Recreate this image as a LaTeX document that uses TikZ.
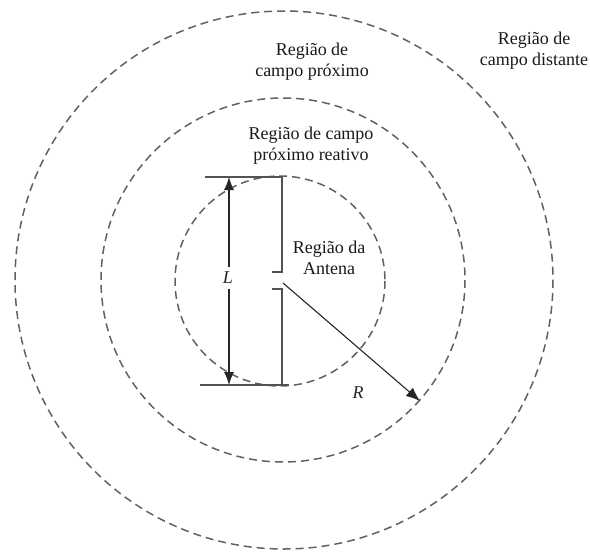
\documentclass[tikz,border=0pt]{standalone}
\usepackage{fontspec}
\setmainfont{Liberation Serif}
\usetikzlibrary{arrows.meta}
\begin{document}
\begin{tikzpicture}[x=1pt,y=-1pt,
  zone/.style={draw=black!62,line width=1.5pt,dash pattern=on 8pt off 5pt},
  antline/.style={draw=black!68,line width=1.8pt},
  dimline/.style={draw=black!85,line width=1.1pt},
  lbl/.style={font=\fontsize{18}{21}\selectfont,align=center,text=black!90,inner sep=0pt},
  ilbl/.style={font=\fontsize{18}{21}\selectfont\itshape,text=black!85,inner sep=1pt}]
\useasboundingbox (0,0) rectangle (590,552);
% circles
\draw[zone] (284,280) circle[radius=269];
\draw[zone] (283,280) circle[radius=182];
\draw[zone] (280,281) circle[radius=105];
% antenna
\coordinate (tl) at (205,177);
\coordinate (tr) at (282,177);
\coordinate (tg) at (282,272);
\coordinate (tgl) at (272,272);
\coordinate (bgl) at (272,289);
\coordinate (bg) at (282,289);
\coordinate (br) at (282,385);
\coordinate (bl) at (200,385);
\coordinate (brr) at (289,385);
\draw[antline] (tl) -- (tr) -- (tg) -- (tgl);
\draw[antline] (bgl) -- (bg) -- (br);
\draw[antline] (bl) -- (brr);
% dimension L
\coordinate (dt) at (229,177);
\coordinate (db) at (229,385);
\draw[dimline,{Latex[length=13pt,width=10pt]}-{Latex[length=13pt,width=10pt]}] (dt) -- (db);
\node[ilbl,fill=white,inner ysep=5pt] (L) at (228,278) {L};
% radius R
\coordinate (rs) at (283,283);
\coordinate (re) at (420,401);
\draw[dimline,-{Latex[length=14pt,width=11pt]}] (rs) -- (re);
\node[ilbl] (R) at (358,393) {R};
% labels
\node[lbl] (ant) at (329,258) {Região da\\Antena};
\node[lbl] (near) at (312,62) {Região de\\campo próximo};
\node[lbl] (far) at (534,51) {Região de\\campo distante};
\node[lbl] (react) at (311,146) {Região de campo\\próximo reativo};
\end{tikzpicture}
\end{document}
